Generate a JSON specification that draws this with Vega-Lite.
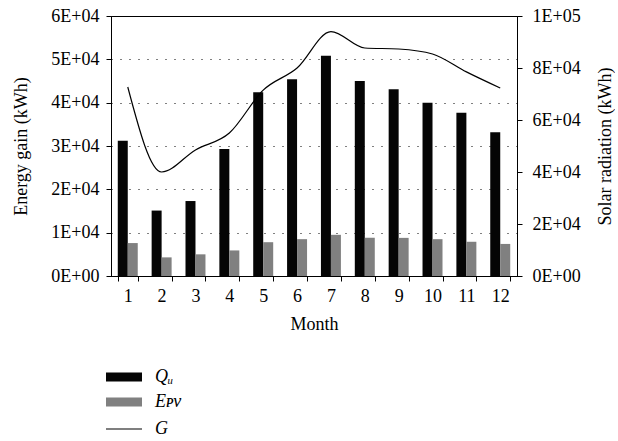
{
  "$schema": "https://vega.github.io/schema/vega-lite/v6.json",
  "width": 406,
  "height": 260,
  "padding": {"left": 12, "top": 7, "right": 0, "bottom": 5},
  "config": {
    "font": "Liberation Serif",
    "view": {"stroke": "black", "strokeWidth": 1},
    "axis": {"labelFont": "Liberation Serif", "titleFont": "Liberation Serif", "labelFontSize": 18, "titleFontSize": 18, "titleFontWeight": "normal", "labelColor": "black", "titleColor": "black", "domainColor": "black", "tickColor": "black"}
  },
  "data": {
    "values": [
      {"month": 1, "Qu": 31200, "EPV": 7600, "G": 72700},
      {"month": 2, "Qu": 15100, "EPV": 4300, "G": 40000},
      {"month": 3, "Qu": 17300, "EPV": 5000, "G": 48500},
      {"month": 4, "Qu": 29300, "EPV": 5900, "G": 55000},
      {"month": 5, "Qu": 42400, "EPV": 7800, "G": 71500},
      {"month": 6, "Qu": 45400, "EPV": 8500, "G": 80000},
      {"month": 7, "Qu": 50800, "EPV": 9500, "G": 94000},
      {"month": 8, "Qu": 45000, "EPV": 8800, "G": 87700},
      {"month": 9, "Qu": 43100, "EPV": 8800, "G": 87300},
      {"month": 10, "Qu": 40000, "EPV": 8500, "G": 85400},
      {"month": 11, "Qu": 37700, "EPV": 7900, "G": 78500},
      {"month": 12, "Qu": 33200, "EPV": 7400, "G": 72300}
    ]
  },
  "encoding": {
    "x": {
      "field": "month", "type": "ordinal",
      "scale": {"paddingInner": 0.41, "paddingOuter": 0.2},
      "axis": {"title": "Month", "labelAngle": 0, "tickBand": "extent", "tickSize": 5, "labelPadding": 6, "titlePadding": 10, "domainWidth": 1}
    }
  },
  "layer": [
    {
      "transform": [{"fold": ["Qu", "EPV"], "as": ["key", "value"]}],
      "mark": {"type": "bar"},
      "encoding": {
        "xOffset": {"field": "key", "type": "nominal", "scale": {"domain": ["Qu", "EPV"], "paddingInner": 0, "paddingOuter": 0}},
        "y": {
          "field": "value", "type": "quantitative",
          "scale": {"domain": [0, 60000]},
          "axis": {
            "title": "Energy gain (kWh)",
            "values": [0, 10000, 20000, 30000, 40000, 50000, 60000],
            "labelExpr": "datum.value == 0 ? '0E+00' : round(datum.value/10000) + 'E+04'",
            "grid": true, "gridColor": "black", "gridDash": [1, 8], "gridWidth": 1,
            "tickSize": 5, "labelPadding": 7, "titlePadding": 20
          }
        },
        "color": {
          "field": "key", "type": "nominal",
          "scale": {"domain": ["Qu", "EPV"], "range": ["#050505", "#808080"]},
          "legend": {
            "orient": "none", "legendX": 4, "legendY": 352, "title": null,
            "symbolType": "M-3,-0.75H3V0.75H-3Z", "symbolSize": 144, "symbolStrokeWidth": 0,
            "labelExpr": "datum.label == 'Qu' ? 'Qᵤ' : 'Eᴘᴠ'",
            "labelFont": "Liberation Serif", "labelFontStyle": "italic", "labelFontSize": 18, "labelColor": "black",
            "rowPadding": 7, "labelOffset": 22
          }
        }
      }
    },
    {
      "mark": {"type": "line", "interpolate": "monotone", "color": "black", "strokeWidth": 1.2},
      "encoding": {
        "y": {
          "field": "G", "type": "quantitative",
          "scale": {"domain": [0, 100000]},
          "axis": {
            "orient": "right", "title": "Solar radiation (kWh)", "titleAngle": -90, "titleBaseline": "top",
            "values": [0, 20000, 40000, 60000, 80000, 100000],
            "labelExpr": "datum.value == 0 ? '0E+00' : datum.value == 100000 ? '1E+05' : round(datum.value/10000) + 'E+04'",
            "grid": false, "tickSize": 5, "labelPadding": 10, "titlePadding": 16
          }
        },
        "stroke": {
          "datum": "G", "type": "nominal",
          "scale": {"domain": ["G"], "range": ["black"]},
          "legend": {
            "orient": "none", "legendX": 4, "legendY": 404, "title": null,
            "symbolType": "M-3,0H3", "symbolSize": 144, "symbolStrokeWidth": 1.2,
            "labelFont": "Liberation Serif", "labelFontStyle": "italic", "labelFontSize": 18, "labelColor": "black",
            "labelOffset": 22
          }
        }
      }
    }
  ],
  "resolve": {"scale": {"y": "independent"}}
}
